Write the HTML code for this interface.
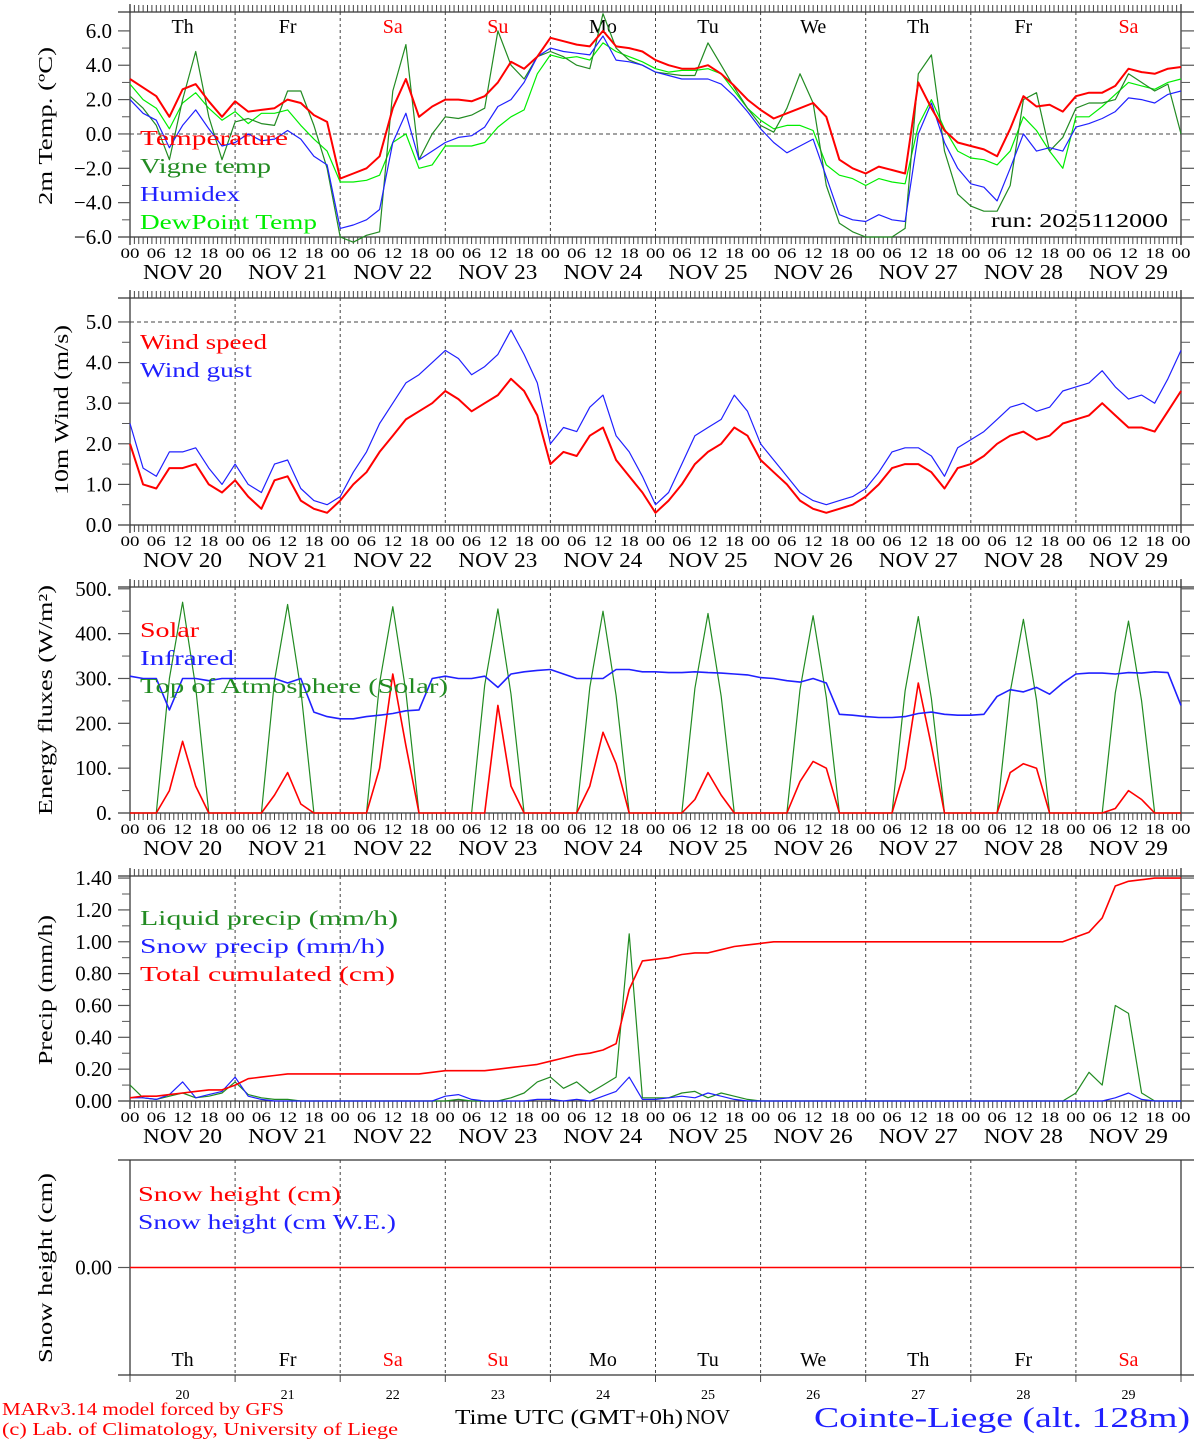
<!DOCTYPE html>
<html><head><meta charset="utf-8"><style>
html,body{margin:0;padding:0;background:#fff}
svg{display:block}
text{font-family:"Liberation Serif",serif}
</style></head><body>
<svg id="chart" xmlns="http://www.w3.org/2000/svg" width="1194" height="1440" viewBox="0 0 1194 1440"></svg>
<script>
// ---- data (3-hourly, 00 Nov 20 -> 00 Nov 30) ----
const dayNames = ["Th","Fr","Sa","Su","Mo","Tu","We","Th","Fr","Sa"];
const dayColors = ["#000","#000","#f00","#f00","#000","#000","#000","#000","#000","#f00"];
const dateLabels = ["NOV 20","NOV 21","NOV 22","NOV 23","NOV 24","NOV 25","NOV 26","NOV 27","NOV 28","NOV 29"];
const hourLabels = ["00","06","12","18"];
const tempTicks = [-6,-4,-2,0,2,4,6];
const windTicks = [0,1,2,3,4,5];
const fluxTicks = [0,100,200,300,400,500];
const precTicks = [0,0.2,0.4,0.6,0.8,1.0,1.2,1.4];

const temperature = [3.2,2.7,2.2,1.0,2.6,2.9,1.9,1.0, 1.9,1.3,1.4,1.5,2.0,1.8,1.1,0.7, -2.6,-2.3,-2.0,-1.3,1.5,3.2,1.0,1.6, 2.0,2.0,1.9,2.2,3.0,4.2,3.8,4.5, 5.6,5.4,5.2,5.1,6.0,5.1,5.0,4.8, 4.3,4.0,3.8,3.8,4.0,3.5,2.8,2.0, 1.4,0.9,1.2,1.5,1.8,1.0,-1.5,-2.0, -2.3,-1.9,-2.1,-2.3,3.0,1.5,0.2,-0.5, -0.7,-0.9,-1.3,0.3,2.2,1.6,1.7,1.3, 2.2,2.4,2.4,2.8,3.8,3.6,3.5,3.8,3.9];
const vigne = [2.2,1.5,0.5,-1.5,2.0,4.8,1.0,-1.5, 0.7,0.9,0.6,0.5,2.5,2.5,0.5,-2.0, -6.0,-6.3,-5.9,-5.7,2.5,5.2,-1.5,0.0, 1.0,0.9,1.1,1.5,6.0,4.0,3.2,4.5, 4.8,4.5,4.0,3.8,7.0,5.0,4.3,4.0, 3.6,3.5,3.4,3.4,5.3,4.0,2.7,1.5, 0.5,0.1,1.5,3.5,1.8,-3.0,-5.2,-5.7, -6.0,-6.0,-6.0,-5.5,3.5,4.6,-1.0,-3.5, -4.2,-4.5,-4.5,-3.0,2.0,2.4,-1.0,-0.2, 1.5,1.8,1.8,2.0,3.5,3.0,2.5,2.9,0.0];
const humidex = [2.0,1.2,0.8,-0.8,0.5,1.4,0.3,-0.7, -0.5,0.0,-0.4,-0.3,0.2,-0.3,-1.3,-1.8, -5.5,-5.3,-5.0,-4.4,-0.5,1.2,-1.5,-1.0, -0.5,-0.2,-0.1,0.4,1.6,2.0,3.0,4.5, 5.0,4.8,4.7,4.6,5.7,4.3,4.2,4.0, 3.6,3.4,3.2,3.2,3.2,2.9,2.2,1.3, 0.3,-0.5,-1.1,-0.7,-0.3,-2.5,-4.7,-5.0, -5.1,-4.7,-5.0,-5.1,0.0,1.8,-0.5,-2.0, -2.9,-3.1,-3.9,-2.0,0.0,-1.0,-0.8,-1.0, 0.4,0.6,0.9,1.3,2.1,2.0,1.8,2.3,2.5];
const dewpoint = [2.9,2.0,1.5,0.3,1.8,2.4,1.5,0.8, 1.3,0.6,1.2,1.2,1.4,0.5,-0.3,-1.0, -2.8,-2.8,-2.7,-2.4,-0.5,0.0,-2.0,-1.8, -0.7,-0.7,-0.7,-0.5,0.4,1.0,1.4,3.5, 4.6,4.4,4.5,4.3,5.3,4.8,4.5,4.2, 3.8,3.6,3.7,3.7,3.8,3.5,2.5,1.5, 0.8,0.3,0.5,0.5,0.2,-1.8,-2.4,-2.6, -3.0,-2.6,-2.8,-2.9,0.5,2.0,0.3,-1.0, -1.4,-1.5,-1.8,-1.0,1.0,0.2,-1.0,-2.0, 1.0,1.0,1.6,2.3,3.0,2.8,2.6,3.0,3.2];
const windSpeed = [2.0,1.0,0.9,1.4,1.4,1.5,1.0,0.8, 1.1,0.7,0.4,1.1,1.2,0.6,0.4,0.3, 0.6,1.0,1.3,1.8,2.2,2.6,2.8,3.0, 3.3,3.1,2.8,3.0,3.2,3.6,3.3,2.7, 1.5,1.8,1.7,2.2,2.4,1.6,1.2,0.8, 0.3,0.6,1.0,1.5,1.8,2.0,2.4,2.2, 1.6,1.3,1.0,0.6,0.4,0.3,0.4,0.5, 0.7,1.0,1.4,1.5,1.5,1.3,0.9,1.4, 1.5,1.7,2.0,2.2,2.3,2.1,2.2,2.5, 2.6,2.7,3.0,2.7,2.4,2.4,2.3,2.8,3.3];
const windGust = [2.5,1.4,1.2,1.8,1.8,1.9,1.4,1.0, 1.5,1.0,0.8,1.5,1.6,0.9,0.6,0.5, 0.7,1.3,1.8,2.5,3.0,3.5,3.7,4.0, 4.3,4.1,3.7,3.9,4.2,4.8,4.2,3.5, 2.0,2.4,2.3,2.9,3.2,2.2,1.8,1.2, 0.5,0.8,1.5,2.2,2.4,2.6,3.2,2.8, 2.0,1.6,1.2,0.8,0.6,0.5,0.6,0.7, 0.9,1.3,1.8,1.9,1.9,1.7,1.2,1.9, 2.1,2.3,2.6,2.9,3.0,2.8,2.9,3.3, 3.4,3.5,3.8,3.4,3.1,3.2,3.0,3.6,4.3];
const solar = [0,0,0,50,160,60,0,0, 0,0,0,40,90,20,0,0, 0,0,0,100,310,150,0,0, 0,0,0,0,240,60,0,0, 0,0,0,60,180,110,0,0, 0,0,0,30,90,40,0,0, 0,0,0,70,115,100,0,0, 0,0,0,100,290,150,0,0, 0,0,0,90,110,100,0,0, 0,0,0,10,50,30,0,0,0];
const infrared = [305,300,300,230,300,300,295,300, 300,300,300,300,290,300,225,215, 210,210,215,218,222,228,230,300, 305,300,300,305,280,310,315,318, 320,310,300,300,300,320,320,315, 315,313,313,315,313,312,310,308, 302,300,295,292,300,290,220,218, 215,213,213,215,222,225,220,218, 218,220,260,275,270,280,265,290, 310,312,312,310,313,312,315,313,240];
const toa = [0,0,0,300,470,280,0,0, 0,0,0,295,465,275,0,0, 0,0,0,290,460,270,0,0, 0,0,0,285,455,265,0,0, 0,0,0,280,450,262,0,0, 0,0,0,278,445,260,0,0, 0,0,0,275,440,258,0,0, 0,0,0,272,438,255,0,0, 0,0,0,270,432,252,0,0, 0,0,0,268,428,250,0,0,0];
const liquid = [0.10,0.02,0.01,0.03,0.05,0.02,0.03,0.05, 0.12,0.04,0.02,0.01,0.01,0,0,0, 0,0,0,0,0,0,0,0, 0,0.01,0,0,0,0.02,0.05,0.12, 0.15,0.08,0.12,0.05,0.10,0.15,1.05,0.02, 0.02,0.02,0.05,0.06,0.02,0.05,0.03,0.01, 0,0,0,0,0,0,0,0, 0,0,0,0,0,0,0,0, 0,0,0,0,0,0,0,0, 0.05,0.18,0.10,0.60,0.55,0.05,0,0,0];
const snowPrecip = [0.02,0.02,0.01,0.04,0.12,0.02,0.04,0.06, 0.15,0.03,0.01,0,0,0,0,0, 0,0,0,0,0,0,0,0, 0.03,0.04,0.01,0,0,0,0,0.01, 0.01,0,0.01,0,0.03,0.06,0.15,0.01, 0.01,0.02,0.03,0.02,0.05,0.03,0.01,0, 0,0,0,0,0,0,0,0, 0,0,0,0,0,0,0,0, 0,0,0,0,0,0,0,0, 0,0,0,0.02,0.05,0.01,0,0,0];
const cumulated = [0.02,0.03,0.03,0.04,0.05,0.06,0.07,0.07, 0.10,0.14,0.15,0.16,0.17,0.17,0.17,0.17, 0.17,0.17,0.17,0.17,0.17,0.17,0.17,0.18, 0.19,0.19,0.19,0.19,0.20,0.21,0.22,0.23, 0.25,0.27,0.29,0.30,0.32,0.36,0.70,0.88, 0.89,0.90,0.92,0.93,0.93,0.95,0.97,0.98, 0.99,1.0,1.0,1.0,1.0,1.0,1.0,1.0, 1.0,1.0,1.0,1.0,1.0,1.0,1.0,1.0, 1.0,1.0,1.0,1.0,1.0,1.0,1.0,1.0, 1.03,1.06,1.15,1.35,1.38,1.39,1.40,1.40,1.40];
const snowHeight = [0,0];

// ---- drawing ----
const NS="http://www.w3.org/2000/svg";
const svg=document.getElementById('chart');
const X0=130, X1=1181, NH=240;
const xh=h=>X0+(X1-X0)*h/NH;
function el(tag,attrs,parent){const e=document.createElementNS(NS,tag);for(const k in attrs)e.setAttribute(k,attrs[k]);(parent||svg).appendChild(e);return e;}
function txt(s,x,y,size,fill,anchor,parent){const t=el('text',{x:x,y:y,'font-size':size,fill:fill||'#000','text-anchor':anchor||'start'},parent);t.textContent=s;return t;}
function fit(t,len){t.setAttribute('textLength',len);t.setAttribute('lengthAdjust','spacingAndGlyphs');return t;}

function panel(name,top,bot,ymin,ymax,ticks,fmt,ruler){
  const g=el('g',{});
  
  
  const y=v=>bot-(v-ymin)/(ymax-ymin)*(bot-top);
  for(let d=1;d<10;d++){const l=el('line',{x1:xh(d*24),x2:xh(d*24),y1:top,y2:bot,stroke:'#444','stroke-width':1,'stroke-dasharray':'3,3'},g);
    }
  el('line',{x1:X0,x2:X0,y1:top-(ruler?8:0),y2:bot+(ruler?8:0),stroke:'#555','stroke-width':1.5},g);
  el('line',{x1:X1,x2:X1,y1:top-(ruler?8:0),y2:bot+(ruler?8:0),stroke:'#555','stroke-width':1.5},g);
  el('line',{x1:118,x2:1194,y1:top,y2:top,stroke:'#333','stroke-width':1.2},g);
  el('line',{x1:118,x2:1194,y1:bot,y2:bot,stroke:'#333','stroke-width':1.2},g);
  if(ruler){
    for(let h=0;h<=NH;h+=1){const x=xh(h);
      el('line',{x1:x,x2:x,y1:top,y2:top-7,stroke:'#444','stroke-width':1},g);
      el('line',{x1:x,x2:x,y1:bot,y2:bot+7,stroke:'#444','stroke-width':1},g);}
    const xl=el('g',{},g);
    for(let d=0;d<10;d++){for(let k=0;k<4;k++){fit(txt(hourLabels[k],xh(d*24+k*6),bot+21,15,'#000','middle',xl),19);}
      fit(txt(dateLabels[d],xh(d*24+12),bot+42,21,'#000','middle',xl),79);}
    fit(txt(hourLabels[0],xh(240),bot+21,15,'#000','middle',xl),19);
  }
  const yl=el('g',{},g);
  ticks.forEach((v,i)=>{const yy=y(v);
    el('line',{x1:118,x2:X0,y1:yy,y2:yy,stroke:'#555','stroke-width':1.2},yl);
    el('line',{x1:X1,x2:1194,y1:yy,y2:yy,stroke:'#555','stroke-width':1.2},yl);
    if(i<ticks.length-1){const ym=y((v+ticks[i+1])/2);
      el('line',{x1:122,x2:X0,y1:ym,y2:ym,stroke:'#555','stroke-width':1},yl);
      el('line',{x1:X1,x2:1190,y1:ym,y2:ym,stroke:'#555','stroke-width':1},yl);}
    const s=fmt(v);txt(s,112,yy+7,21,'#000','end',yl);});
  return {g,y};
}
function series(p,vals,color,w,name){
  const pts=vals.map((v,i)=>xh(i*240/(vals.length-1)).toFixed(1)+','+p.y(v).toFixed(1)).join(' ');
  const pl=el('polyline',{points:pts,fill:'none',stroke:color,'stroke-width':w,'stroke-linejoin':'round'},p.g);
  
  
}
function legend(p,items,x,y0,dy){items.forEach((it,i)=>{const t=txt(it[0],x,y0+i*dy,21,it[1],'start',p.g);
  fit(t,it[2]);
  });}
function ytitle(s,x,yc,len){const t=el('text',{x:0,y:0,'font-size':20,fill:'#000','text-anchor':'middle',transform:`translate(${x},${yc}) rotate(-90)`,textLength:len,lengthAdjust:'spacingAndGlyphs'});t.textContent=s;
  return t;}

// Panel 1
const fmt1=v=>(v<0?'\u2212':'')+Math.abs(v).toFixed(1);
const p1=panel('temperature',12,237,-6,7.1,tempTicks,fmt1,true);
el('line',{x1:X0,x2:X1,y1:p1.y(0),y2:p1.y(0),stroke:'#444','stroke-dasharray':'4,3'},p1.g);
for(let d=0;d<10;d++){const t=txt(dayNames[d],xh(d*24+12),33,20,dayColors[d],'middle',p1.g);}
series(p1,dewpoint,'#00ee00',1.2,'dewpoint-line');
series(p1,vigne,'#228b22',1.2,'vigne-temp-line');
series(p1,humidex,'#2020ff',1.2,'humidex-line');
series(p1,temperature,'#ff0000',2,'temperature-line');
legend(p1,[["Temperature","#f00",148],["Vigne temp","#228b22",131],["Humidex","#2020ff",100],["DewPoint Temp","#00ee00",177]],140,145,28);
fit(txt('run: 2025112000',1168,227,20,'#000','end',p1.g),177);
ytitle('2m Temp. (\u00baC)',52,126,158);

// Panel 2
const p2=panel('wind',298,525,0,5.59,windTicks,v=>v.toFixed(1),true);
el('line',{x1:X0,x2:X1,y1:p2.y(5),y2:p2.y(5),stroke:'#444','stroke-dasharray':'4,3'},p2.g);
series(p2,windGust,'#2020ff',1.2,'wind-gust-line');
series(p2,windSpeed,'#ff0000',2,'wind-speed-line');
legend(p2,[["Wind speed","#f00",127],["Wind gust","#2020ff",112]],140,349,28);
ytitle('10m Wind (m/s)',68,410,170);

// Panel 3
const p3=panel('energy',587,813,0,504,fluxTicks,v=>v+'.',true);
series(p3,toa,'#228b22',1.2,'toa-solar-line');
series(p3,solar,'#ff0000',1.6,'solar-line');
series(p3,infrared,'#2020ff',1.6,'infrared-line');
legend(p3,[["Solar","#f00",59],["Infrared","#2020ff",94],["Top of Atmosphere (Solar)","#228b22",308]],140,637,28);
ytitle('Energy fluxes (W/m\u00b2)',52,700,230);

// Panel 4
const p4=panel('precip',876,1101,0,1.413,precTicks,v=>v.toFixed(2),true);
series(p4,liquid,'#228b22',1.2,'liquid-precip-line');
series(p4,snowPrecip,'#2020ff',1.2,'snow-precip-line');
series(p4,cumulated,'#ff0000',1.6,'total-cumulated-line');
legend(p4,[["Liquid precip (mm/h)","#228b22",258],["Snow precip (mm/h)","#2020ff",245],["Total cumulated (cm)","#f00",255]],140,925,28);
ytitle('Precip (mm/h)',52,990,150);

// Panel 5
const p5=panel('snow',1160,1375,-1,1,[0],v=>'0.00',false);
series(p5,snowHeight,'#ff0000',1.6,'snow-height-line');
legend(p5,[["Snow height (cm)","#f00",203],["Snow height (cm W.E.)","#2020ff",258]],138,1201,28);
ytitle('Snow height (cm)',52,1268,190);
for(let d=0;d<10;d++){const t=txt(dayNames[d],xh(d*24+12),1366,20,dayColors[d],'middle',p5.g);
  txt(String(20+d),xh(d*24+12),1399,14,'#000','middle',p5.g);
  el('line',{x1:xh(d*24),x2:xh(d*24),y1:1375,y2:1382,stroke:'#444'},p5.g);}
el('line',{x1:X1,x2:X1,y1:1375,y2:1382,stroke:'#444'},p5.g);

// footer
const f1=fit(txt('MARv3.14 model forced by GFS',2,1415,18,'#f00'),282);
const f2=fit(txt('(c) Lab. of Climatology, University of Liege',2,1435,18,'#f00'),396);
const f3=fit(txt('Time UTC (GMT+0h)',455,1424,21,'#000'),228);
const f4=fit(txt('NOV',686,1424,21,'#000'),44);
const f5=fit(txt('Cointe-Liege (alt. 128m)',1190,1427,28,'#2020ff','end'),376);
</script>
</body></html>
